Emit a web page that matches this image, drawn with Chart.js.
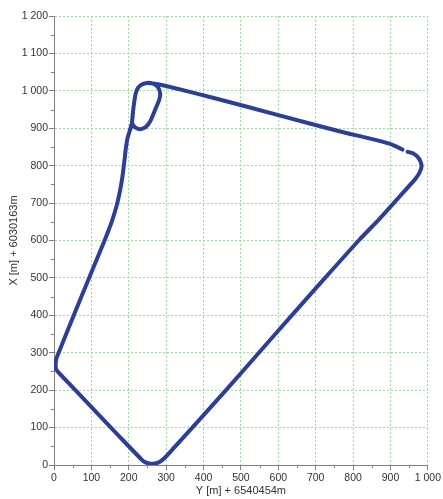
<!DOCTYPE html>
<html>
<head>
<meta charset="utf-8">
<style>
  html, body { margin: 0; padding: 0; background: #fff; }
  #wrap { width: 443px; height: 499px; }
</style>
</head>
<body>
<div id="wrap"><canvas id="myChart" width="443" height="499"></canvas></div>

<script src="https://cdn.jsdelivr.net/npm/chart.js"></script>
<script>
    // track, walked from the right end of the gap, clockwise round the figure
    const trackY = [946, 960, 972, 980, 983, 977, 966, 924, 870, 815, 725, 636, 548, 460, 370, 320, 295, 282, 270, 255, 245, 236,
        177, 101, 40, 9, 5, 5, 8, 66, 125, 140, 155, 168, 176, 183, 188, 192, 197, 208,
        212, 217, 222, 232, 248, 265, 278, 284, 281, 270, 257, 245, 230, 216, 209,
        212, 217, 222, 232, 248, 270, 300, 443, 600, 763, 843, 897, 920, 932];
    const trackX = [837, 833, 824, 812, 797, 780, 764, 717, 657, 600, 500, 400, 300, 200, 100, 45, 18, 8, 4, 4, 7, 13,
        74, 154, 218, 251, 258, 278, 289, 432, 575, 612, 652, 695, 730, 770, 810, 845, 875, 912,
        950, 985, 1003, 1015, 1021, 1019, 1010, 993, 975, 948, 918, 903, 897, 903, 915,
        950, 985, 1003, 1015, 1021, 1019, 1013, 977, 935, 892, 873, 859, 849, 843];

    const yAxisTitle = 'Y [m] + 6540454m';
    const xAxisTitle = 'X [m] + 6030163m';

    function fmt(v) {
        return String(v).replace(/\B(?=(\d{3})+(?!\d))/g, ' ');
    }

    const minorTicks = {
        id: 'minorTicks',
        afterDraw(chart) {
            const {ctx, scales: {x, y}} = chart;
            ctx.save();
            ctx.strokeStyle = '#808080';
            ctx.lineWidth = 1;
            ctx.beginPath();
            for (let v = x.min + 50; v < x.max; v += 100) {
                const px = Math.round(x.getPixelForValue(v)) + 0.5;
                ctx.moveTo(px, x.top);
                ctx.lineTo(px, x.top + 3);
            }
            for (let v = y.min + 50; v < y.max; v += 100) {
                const py = Math.round(y.getPixelForValue(v)) + 0.5;
                ctx.moveTo(y.right - 3, py);
                ctx.lineTo(y.right, py);
            }
            ctx.stroke();
            ctx.restore();
        }
    };

    const points = trackY.map((v, i) => ({ x: v, y: trackX[i] }));

    const axisFont = { family: 'Liberation Sans, Arial, sans-serif', size: 10.5 };
    const titleFont = { family: 'Liberation Sans, Arial, sans-serif', size: 11 };

    new Chart(document.getElementById('myChart'), {
        type: 'scatter',
        data: {
            datasets: [{
                data: points,
                showLine: true,
                borderColor: '#2c3e96',
                borderWidth: 4,
                borderCapStyle: 'round',
                borderJoinStyle: 'round',
                tension: 0.2,
                pointRadius: 0
            }]
        },
        options: {
            responsive: false,
            animation: false,
            layout: { padding: { top: 16, right: 14, bottom: 0, left: 0 } },
            plugins: { legend: { display: false }, tooltip: { enabled: false } },
            scales: {
                x: {
                    type: 'linear',
                    min: 0, max: 1000,
                    afterFit(scale) { scale.height = 34; },
                    ticks: { stepSize: 100, autoSkip: false, maxRotation: 0, padding: 2,
                        color: '#333', font: axisFont, callback: fmt },
                    grid: { color: '#9ed89e', tickColor: '#808080', tickLength: 5 },
                    border: { display: true, color: '#808080', dash: [2, 2] },
                    title: { display: true, text: yAxisTitle, color: '#333', font: titleFont,
                        padding: { top: 0, bottom: 1 } }
                },
                y: {
                    type: 'linear',
                    min: 0, max: 1200,
                    afterFit(scale) { scale.width = 54; },
                    ticks: { stepSize: 100, autoSkip: false, padding: 1,
                        color: '#333', font: axisFont, callback: fmt },
                    grid: { color: '#9ed89e', tickColor: '#808080', tickLength: 5 },
                    border: { display: true, color: '#808080', dash: [2, 2] },
                    title: { display: true, text: xAxisTitle, color: '#333', font: titleFont,
                        padding: { top: 7, bottom: 0 } }
                }
            }
        },
        plugins: [minorTicks]
    });
</script>
</body>
</html>
